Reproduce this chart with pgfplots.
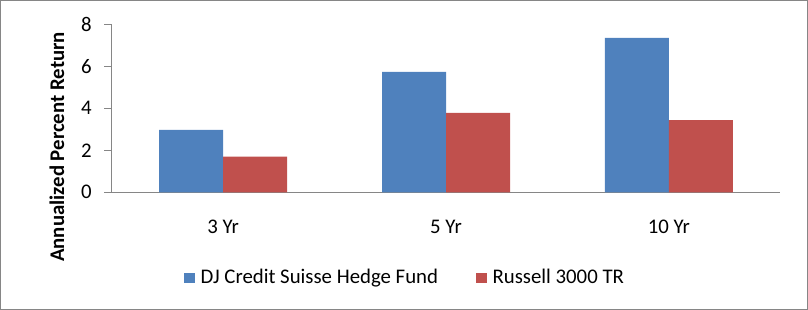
\documentclass[border=0pt]{standalone}
\usepackage{pgfplots}
\pgfplotsset{compat=1.18}
\usepackage{fontspec}
\setmainfont{Carlito}
\definecolor{cblue}{HTML}{4F81BD}
\definecolor{cred}{HTML}{C0504D}
\definecolor{axgray}{HTML}{868686}
\newcommand{\chartfont}{\fontsize{20.8}{25}\selectfont}
\begin{document}
\chartfont
\begin{tikzpicture}
\useasboundingbox (-111.7pt,-117.7pt) rectangle (696.3pt,192.3pt);
\draw[axgray, line width=1pt] (-110.7pt,-116.7pt) rectangle (695.3pt,191.3pt);
\begin{axis}[
  scale only axis,
  width=668.6pt, height=168pt,
  at={(0,0)}, anchor=south west,
  ybar=0pt, bar width=64pt,
  xmin=-0.5, xmax=2.5,
  ymin=0, ymax=8,
  ytick={0,2,4,6,8},
  xtick={0,1,2},
  xticklabels={3 Yr,5 Yr,10 Yr},
  extra x ticks={-0.5,0.5,1.5,2.5},
  extra x tick labels={},
  extra x tick style={major tick length=7pt, tick style={axgray, line width=0.8pt}},
  axis x line*=bottom, axis y line*=left,
  axis line style={axgray, line width=0.8pt, -},
  tick align=outside,
  major tick length=7.5pt,
  tick style={axgray, line width=0.8pt},
  x tick style={draw=none},
  /pgf/number format/assume math mode=true,
  ticklabel style={font=\chartfont, text=black},
  xticklabel style={yshift=-13.5pt},
  yticklabel style={xshift=-5.5pt},
  ylabel={\bfseries Annualized Percent Return},
  ylabel style={at={(axis description cs:-0.0818,0.27)}, anchor=center, rotate=0, font=\chartfont},
  legend style={at={(axis description cs:0.4387,-0.512)}, anchor=center, draw=none, fill=none,
    legend columns=2, font=\chartfont,
    /tikz/every even column/.append style={column sep=36pt}},
  legend image code/.code={\fill[#1] (0pt,-5pt) rectangle (10.5pt,5.5pt); \path (14.5pt,0pt);},
]
\addplot[fill=cblue, draw=none] coordinates {(0,2.97) (1,5.73) (2,7.35)};
\addplot[fill=cred, draw=none] coordinates {(0,1.70) (1,3.78) (2,3.44)};
\legend{DJ Credit Suisse Hedge Fund, Russell 3000 TR}
\end{axis}
\end{tikzpicture}
\end{document}
